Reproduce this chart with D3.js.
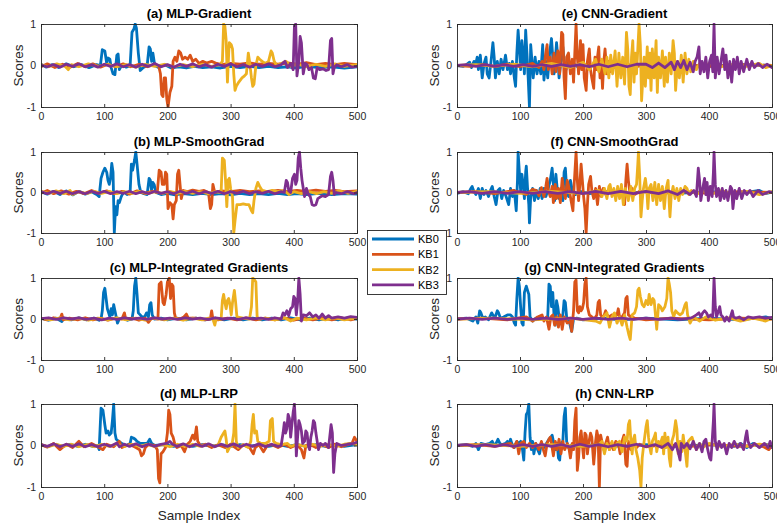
<!DOCTYPE html>
<html><head><meta charset="utf-8">
<script src="https://cdn.jsdelivr.net/npm/d3@7"></script>
<style>body{margin:0;background:#fff}svg{display:block}</style>
</head><body>
<svg id="c" width="777" height="527"></svg>
<script>
// ---------- data ----------
const seriesNames = ["KB0","KB1","KB2","KB3"];
const seriesColors = ["#0072BD","#D95319","#EDB120","#7E2F8E"];
const panelTitles = ["(a) MLP-Gradient","(b) MLP-SmoothGrad","(c) MLP-Integrated Gradients","(d) MLP-LRP",
                     "(e) CNN-Gradient","(f) CNN-SmoothGrad","(g) CNN-Integrated Gradients","(h) CNN-LRP"];
const xTicks = [0,100,200,300,400,500];
const yTicks = [-1,0,1];
const yLabel = "Scores";
const xLabel = "Sample Index";

// (a) MLP-Gradient
const aKB0 = [[0,0.03],[8,-0.04],[18,0.02],[28,-0.05],[40,0.04],[52,-0.03],[64,0.02],[76,-0.05],[88,0.02],[94,0],[97,0.38],[101,0.35],[104,0.05],[106,0.18],[109,0.15],[111,-0.05],[114,-0.2],[117,-0.22],[120,0.25],[122,0.28],[124,-0.1],[128,0.02],[135,-0.04],[141,0],[144,0.8],[147,0.88],[149,1.0],[151,0.9],[154,0.3],[157,-0.12],[162,-0.05],[168,0],[171,0.45],[173,0.4],[175,0.1],[177,0.3],[180,0],[186,-0.05],[196,0.02],[206,-0.06],[218,-0.03],[230,-0.06],[242,-0.02],[256,-0.05],[270,-0.03],[284,-0.06],[300,-0.02],[315,-0.05],[330,-0.02],[345,-0.05],[360,-0.02],[375,-0.05],[390,-0.03],[405,-0.06],[420,-0.02],[440,-0.05],[460,-0.03],[480,-0.06],[500,-0.03]];
const aKB1 = [[0,-0.03],[10,0.04],[22,-0.05],[34,0.03],[46,-0.04],[58,0.05],[70,-0.03],[82,0.04],[94,-0.04],[106,0.03],[118,-0.03],[130,0.04],[142,-0.03],[155,0.03],[168,-0.03],[180,0.02],[186,0],[189,-0.2],[191,-0.7],[193,-0.75],[195,-0.3],[197,-0.3],[199,-0.8],[201,-1.0],[204,-0.65],[207,-0.5],[209,0.1],[212,0.2],[215,0.1],[218,0.35],[221,0.3],[224,0.15],[228,0.2],[232,0.15],[236,0.25],[240,0.1],[245,0.15],[250,0.05],[256,0.1],[262,0.06],[270,0.1],[278,0.05],[285,0.02],[300,0.05],[315,0.03],[330,0.06],[345,0.03],[360,0.05],[375,0.03],[390,0.06],[405,0.03],[420,0.07],[435,0.02],[450,0.05],[465,0.02],[480,0.05],[500,0.02]];
const aKB2 = [[0,0.02],[12,-0.03],[25,0.04],[38,-0.02],[43,-0.1],[48,0.02],[60,-0.03],[75,0.04],[90,-0.02],[105,0.03],[120,-0.03],[135,0.02],[150,-0.04],[165,0.03],[180,-0.02],[195,0.03],[210,-0.03],[225,0.02],[240,-0.03],[255,0.03],[270,-0.02],[283,0.02],[287,0.1],[289,1.0],[291,0.95],[293,0.6],[295,-0.4],[297,0.3],[298,0.55],[301,0.5],[303,0.4],[305,-0.2],[307,-0.6],[309,-0.5],[313,-0.4],[318,-0.3],[322,-0.25],[325,-0.2],[328,0.3],[330,0.1],[333,-0.3],[335,-0.5],[337,-0.45],[340,0],[343,0.2],[346,0.15],[350,0.1],[355,0.05],[360,0.1],[364,0.35],[366,0.3],[369,0.1],[373,0],[380,0.05],[388,0.1],[395,-0.02],[405,0.04],[420,-0.03],[435,0.03],[450,-0.02],[465,0.04],[480,-0.02],[500,0.02]];
const aKB3 = [[0,0.01],[10,-0.03],[20,0.02],[30,-0.04],[40,0.03],[50,-0.02],[60,0.04],[70,-0.03],[80,0.02],[90,-0.04],[100,0.03],[110,-0.02],[120,0.04],[130,-0.03],[140,0.02],[150,-0.04],[160,0.03],[170,-0.02],[180,0.05],[190,-0.03],[200,0.02],[210,-0.04],[220,0.03],[230,-0.02],[240,0.04],[250,-0.03],[260,0.02],[270,-0.04],[280,0.03],[290,-0.02],[300,0.04],[310,-0.03],[320,0.02],[330,-0.04],[340,0.03],[350,-0.02],[360,0.04],[370,-0.03],[380,0.02],[386,0.1],[390,-0.05],[395,0.05],[399,-0.1],[401,0.95],[403,1.0],[405,-0.25],[408,0.1],[410,0.7],[412,0.55],[415,-0.2],[418,0.05],[421,0.02],[424,-0.1],[428,-0.05],[431,-0.3],[434,-0.32],[437,-0.05],[441,-0.1],[446,-0.08],[451,-0.12],[455,-0.1],[458,0.6],[460,0.65],[462,-0.2],[464,-0.05],[468,0.02],[475,-0.03],[485,0.02],[492,-0.04],[500,-0.02]];

// (b) MLP-SmoothGrad
const bKB0 = [[0,0.02],[10,-0.04],[20,0.03],[30,-0.05],[40,0.04],[50,-0.06],[60,0.03],[70,-0.04],[80,0.02],[88,-0.05],[92,-0.1],[95,0.35],[98,0.5],[101,0.6],[104,0.5],[106,0.3],[108,0.2],[110,0.35],[112,0.72],[114,0.5],[116,-1.0],[118,-0.35],[120,-0.55],[122,-0.2],[124,-0.25],[127,-0.1],[131,0.02],[136,-0.05],[141,0],[143,0.7],[145,0.55],[148,0.8],[150,1.0],[152,0.7],[155,0.2],[158,0],[163,-0.03],[168,-0.05],[171,0.35],[173,0.3],[175,0.05],[177,0.25],[179,0.2],[182,0],[190,-0.05],[200,-0.02],[212,-0.06],[225,-0.03],[240,-0.05],[255,-0.02],[270,-0.05],[285,-0.03],[300,-0.06],[315,-0.02],[330,-0.05],[345,-0.03],[360,-0.05],[375,-0.02],[390,-0.05],[405,-0.03],[420,-0.05],[440,-0.02],[460,-0.05],[480,-0.03],[500,-0.04]];
const bKB1 = [[0,-0.02],[10,0.05],[20,-0.03],[32,0.04],[44,-0.04],[56,0.03],[68,-0.03],[80,0.05],[92,-0.02],[104,0.04],[116,-0.03],[128,0.03],[140,-0.04],[152,0.04],[164,-0.02],[176,0.03],[184,0],[187,0.55],[190,0.5],[192,0.2],[195,0.2],[197,0.5],[199,0.45],[201,-0.4],[204,-0.25],[207,-0.3],[209,-0.65],[211,-0.3],[214,-0.2],[216,0.45],[218,0.55],[220,0.2],[222,-0.15],[225,0.05],[232,0.02],[240,0.06],[250,0.03],[258,0.05],[265,0],[268,-0.4],[270,-0.3],[272,0.2],[275,0],[285,0.04],[300,0.02],[315,0.05],[330,0.02],[345,0.04],[360,0.02],[375,0.05],[390,0.02],[405,0.05],[420,0.03],[435,0.06],[450,0.03],[465,0.05],[480,0.02],[500,0.04]];
const bKB2 = [[0,0.03],[12,-0.02],[24,0.04],[36,-0.03],[46,0.05],[50,-0.05],[60,0.02],[72,-0.03],[84,0.03],[96,-0.02],[108,0.03],[120,-0.03],[132,0.02],[144,-0.02],[156,0.03],[168,-0.03],[180,0.02],[192,-0.02],[204,0.03],[216,-0.02],[228,0.03],[240,-0.02],[252,0.02],[264,-0.03],[276,0.02],[285,0],[287,0.85],[290,0.8],[292,0.3],[294,-0.35],[296,0.3],[298,0.35],[300,0.1],[303,-0.1],[305,-1.0],[307,-0.7],[310,-0.3],[315,-0.3],[320,-0.28],[325,-0.3],[329,-0.3],[333,-0.45],[335,-0.5],[337,-0.2],[340,0.1],[343,0.25],[346,0.15],[350,0.05],[358,0.02],[366,0.05],[375,0.02],[385,0.05],[392,-0.05],[400,0.02],[412,-0.03],[424,0.02],[436,-0.03],[448,0.02],[460,-0.02],[472,0.04],[486,-0.02],[500,0.03]];
const bKB3 = [[0,0.02],[10,-0.03],[20,0.03],[30,-0.02],[40,0.03],[50,-0.03],[60,0.02],[70,-0.03],[80,0.03],[90,-0.02],[100,0.03],[110,-0.03],[120,0.02],[130,-0.02],[140,0.03],[150,-0.03],[160,0.02],[170,-0.03],[180,0.03],[190,-0.02],[200,0.02],[210,-0.03],[220,0.03],[230,-0.02],[240,0.03],[250,-0.03],[260,0.02],[270,-0.02],[280,0.03],[290,-0.03],[300,0.02],[310,-0.02],[320,0.03],[330,-0.03],[340,0.02],[350,-0.02],[360,0.03],[370,-0.03],[380,0.02],[385,0],[388,0.3],[390,0.25],[392,0.05],[395,0],[398,0.35],[401,0.45],[403,0.2],[405,0.3],[407,0.85],[409,1.0],[411,0.6],[413,0.3],[415,0.1],[417,-0.1],[420,0.1],[423,-0.05],[426,-0.1],[429,-0.3],[432,-0.32],[435,-0.3],[438,-0.15],[441,-0.12],[445,-0.08],[450,-0.1],[455,-0.05],[458,0.4],[460,0.5],[462,0.3],[464,-0.05],[467,0],[475,-0.03],[485,0.02],[495,-0.03],[500,0]];

// (c) MLP-Integrated Gradients
const cKB0 = [[0,0.02],[12,-0.03],[24,0.02],[33,-0.06],[36,0.02],[48,-0.02],[60,0.03],[72,-0.02],[84,0.02],[92,-0.03],[95,0],[97,0.2],[99,0.65],[101,0.75],[103,0.5],[105,0.25],[107,0.15],[109,0.05],[111,0.25],[113,0.1],[115,0.35],[117,0.2],[119,0.05],[121,-0.1],[124,0],[130,0.02],[137,-0.03],[144,0],[146,0.2],[148,0.8],[150,1.0],[152,0.6],[154,0.15],[157,0.1],[160,0.05],[164,0.05],[167,0.15],[170,0.05],[172,0.35],[174,0.4],[176,0.1],[179,0],[190,0.02],[200,-0.02],[215,0.02],[230,-0.02],[245,0.02],[260,-0.02],[275,0.02],[290,-0.02],[305,0.02],[320,-0.02],[335,0.02],[350,-0.02],[365,0.02],[380,-0.02],[395,0.03],[410,-0.02],[425,0.02],[440,-0.02],[455,0.02],[470,-0.02],[485,0.02],[500,0]];
const cKB1 = [[0,0.02],[10,-0.02],[20,0.03],[30,0],[33,0.12],[35,-0.02],[45,0.02],[58,-0.02],[70,0.03],[82,-0.02],[94,0.02],[106,-0.03],[118,0.02],[128,0],[132,0.15],[134,0],[145,0.02],[155,-0.03],[165,0.02],[170,-0.08],[175,0.02],[185,0],[187,0.85],[190,0.9],[193,0.4],[195,0.35],[198,0.6],[200,0.9],[203,1.0],[205,0.5],[207,0.85],[209,0.8],[211,0.15],[213,0.02],[220,0],[226,0.05],[230,0.12],[233,0.02],[245,0.02],[258,-0.02],[268,0],[270,0.2],[272,0],[280,-0.02],[295,0.02],[310,-0.02],[325,0.03],[340,-0.02],[355,0.02],[370,-0.02],[385,0.03],[400,-0.03],[415,0.02],[430,-0.02],[445,0.03],[460,-0.02],[475,0.03],[490,-0.02],[500,0.02]];
const cKB2 = [[0,0.02],[15,-0.02],[30,0.03],[45,-0.02],[60,0.02],[75,-0.03],[90,0.02],[105,-0.02],[120,0.03],[135,-0.02],[150,0.02],[165,-0.03],[180,0.02],[195,-0.02],[210,0.02],[225,-0.03],[240,0.02],[255,-0.02],[265,0.02],[272,0],[275,-0.15],[277,0],[285,0],[287,0.45],[289,0.6],[291,0.4],[293,0.25],[295,0.45],[297,0.5],[299,0.35],[301,0.1],[303,0.4],[306,0.7],[308,0.4],[310,0.05],[320,0.02],[330,0],[333,0.3],[335,1.0],[338,0.95],[340,0.9],[342,0.05],[345,0],[355,0.02],[370,-0.02],[385,0.03],[395,-0.05],[405,0.02],[420,-0.02],[435,0.03],[450,-0.02],[465,0.03],[480,-0.02],[500,0.02]];
const cKB3 = [[0,0.01],[12,0.03],[24,-0.01],[36,0.03],[48,0],[60,0.03],[72,-0.01],[84,0.02],[96,-0.02],[108,0.02],[120,-0.01],[132,0.03],[144,0],[156,0.02],[168,-0.01],[180,0.03],[192,0],[204,0.02],[216,-0.01],[228,0.03],[240,0],[252,0.02],[264,-0.01],[276,0.03],[288,0],[300,0.02],[312,-0.01],[324,0.03],[336,0],[348,0.02],[360,-0.01],[370,0.03],[380,0],[383,0.15],[386,0.1],[389,0.2],[392,0.08],[395,0.25],[398,0.3],[400,0.55],[402,0.5],[404,0.1],[406,0.4],[408,1.0],[410,0.6],[412,-0.05],[415,0.1],[420,0.08],[425,0.15],[430,0.05],[435,0.1],[440,0.02],[445,0.12],[450,0.02],[455,0.08],[460,0.02],[470,0.05],[480,0.02],[490,0.06],[500,0.04]];

// (d) MLP-LRP
const dKB0 = [[0,0.02],[10,-0.03],[22,0.03],[34,-0.02],[46,0.03],[58,-0.02],[70,0.03],[82,-0.02],[90,0],[92,-0.1],[95,0.9],[98,0.85],[101,0.5],[103,0.3],[106,0.35],[108,0.25],[111,0.3],[113,0.6],[115,1.0],[117,0.3],[119,0.15],[123,0.1],[128,0.05],[135,0],[141,0.05],[143,0.2],[146,0.18],[149,0.15],[152,0.1],[157,0.05],[162,0.05],[168,0.05],[172,0.15],[175,0.05],[180,0],[195,0.02],[210,-0.02],[225,0.02],[240,-0.02],[255,0.02],[270,-0.02],[285,0.02],[300,-0.02],[315,0.02],[330,-0.02],[345,0.02],[360,-0.02],[375,0.02],[390,-0.02],[405,0.02],[420,-0.02],[435,0.02],[450,-0.02],[465,0.02],[480,-0.02],[500,0.02]];
const dKB1 = [[0,0.02],[10,-0.04],[20,0.05],[30,-0.1],[40,0.03],[50,-0.05],[60,0.1],[68,-0.03],[80,0.05],[92,-0.05],[98,-0.1],[104,0.03],[115,-0.03],[124,0.1],[128,-0.05],[140,0.03],[150,-0.05],[156,-0.1],[159,-0.25],[162,-0.2],[165,-0.05],[170,0.02],[180,0],[184,-0.1],[186,-0.8],[188,-0.9],[190,-0.2],[193,-0.15],[197,-0.05],[200,0.3],[202,0.85],[204,0.75],[206,0.3],[209,0.2],[212,0.02],[215,-0.05],[222,0],[227,-0.15],[231,0.02],[236,0.1],[240,0.25],[243,0.15],[246,0.45],[248,0.1],[252,0],[260,0.03],[270,-0.05],[280,0.02],[292,-0.05],[300,0.03],[312,-0.1],[320,0.02],[330,-0.05],[336,-0.2],[339,-0.05],[345,0.02],[352,-0.15],[358,0],[365,0.02],[375,-0.05],[385,0.03],[395,-0.05],[405,0.02],[412,-0.1],[416,-0.3],[419,0],[425,0.03],[435,-0.05],[445,0.02],[455,-0.05],[465,0.03],[475,-0.03],[485,0.02],[492,0.05],[496,0.2],[500,0.1]];
const dKB2 = [[0,0.02],[12,-0.03],[24,0.03],[36,-0.02],[48,0.03],[60,-0.03],[72,0.02],[84,-0.03],[96,0.03],[108,-0.02],[120,0.03],[132,-0.02],[144,0.03],[156,-0.02],[168,0.03],[180,-0.03],[192,0.02],[204,-0.03],[216,0.03],[228,-0.02],[240,0.03],[252,-0.02],[264,0.03],[275,-0.02],[280,0],[285,0.2],[289,0.3],[291,0.35],[293,0.15],[295,-0.15],[298,-0.05],[302,0],[305,0.3],[307,1.0],[309,0.1],[312,-0.05],[320,0.02],[328,-0.05],[332,0.1],[334,0.5],[336,0.75],[338,0.3],[341,0.35],[343,0.1],[348,0.05],[355,0.05],[361,0.1],[363,0.6],[366,0.65],[368,0.1],[372,0.05],[380,0.02],[390,0.05],[395,-0.02],[405,0.03],[418,-0.02],[430,0.03],[442,-0.02],[455,0.03],[468,-0.02],[480,0.03],[490,0.05],[500,0.02]];
const dKB3 = [[0,0.02],[10,-0.02],[20,0.04],[30,-0.03],[40,0.03],[50,-0.02],[60,0.04],[70,-0.03],[80,0.02],[90,-0.03],[100,0.03],[110,-0.02],[120,0.06],[124,-0.03],[132,0.03],[140,-0.02],[150,0.04],[160,-0.03],[170,0.03],[180,-0.02],[190,0.03],[200,0.06],[204,0.1],[208,0.03],[215,-0.02],[225,0.04],[235,-0.03],[245,0.03],[255,-0.02],[265,0.04],[275,-0.03],[285,0.03],[295,-0.02],[305,0.04],[315,-0.03],[325,0.03],[335,-0.02],[345,0.04],[355,-0.03],[365,0.03],[375,-0.02],[380,0],[383,0.3],[385,0.55],[387,0.3],[389,0.4],[391,0.75],[393,0.65],[395,0.2],[397,0.5],[399,0.8],[401,1.0],[403,0.4],[404,-0.25],[406,0.2],[408,0.6],[410,0.5],[412,0.35],[414,0.05],[417,0.1],[419,0.35],[421,0.3],[423,0],[425,-0.1],[427,0.2],[429,0.35],[431,0.6],[433,0.55],[435,0.3],[437,0.1],[439,-0.1],[442,0.05],[446,0],[450,0.05],[455,-0.05],[459,0.5],[461,0.3],[463,-0.65],[465,-0.2],[468,0.05],[475,0],[485,0.03],[495,0.05],[500,0.08]];

// (e) CNN-Gradient
const eKB0 = [[0,0],[10,-0.02],[15,0.02],[20,0.08],[23,-0.05],[27,0.1],[30,0.05],[32,0.2],[34,-0.1],[37,0.25],[40,-0.3],[43,0.05],[46,0.2],[48,-0.2],[51,-0.3],[54,0.1],[57,0.55],[59,0.2],[61,-0.3],[64,0.1],[67,-0.2],[70,0.15],[73,-0.1],[77,0.25],[80,-0.1],[83,0.05],[85,-0.2],[88,0.1],[91,-0.3],[93,-0.5],[95,0.3],[97,0.85],[99,0.4],[101,-0.1],[103,0.6],[105,0.25],[107,-0.2],[109,0.85],[111,0.3],[113,-0.3],[115,-1.0],[117,0.5],[119,0.1],[121,-0.3],[124,0.2],[127,-0.2],[130,0.1],[133,-0.2],[136,0.5],[138,-0.35],[141,0.1],[144,-0.3],[147,0.3],[150,0.65],[152,0.2],[154,-0.2],[156,0.1],[158,0.55],[160,0.2],[162,-0.3],[165,0.1],[168,0.45],[170,0.1],[173,-0.1],[176,0.1],[180,-0.05],[185,0.05],[190,-0.02],[200,0.02],[220,-0.02],[240,0.02],[260,-0.02],[280,0.02],[300,0],[350,0.02],[400,-0.02],[450,0.02],[500,0]];
const eKB1 = [[0,0],[20,-0.02],[40,0.02],[60,-0.02],[80,0.03],[100,-0.03],[120,0.05],[130,-0.05],[135,0.1],[138,-0.1],[140,0.2],[143,0.5],[145,-0.1],[148,0.2],[151,-0.2],[154,0.3],[157,-0.15],[160,0.35],[163,-0.2],[166,0.8],[168,0.75],[170,-0.3],[172,-0.8],[174,0.2],[177,0.3],[180,-0.2],[183,0.15],[185,-0.4],[187,0.3],[189,1.0],[191,0.2],[193,-0.2],[196,0.6],[198,-0.1],[200,0.5],[202,-0.3],[205,-0.6],[207,0.1],[210,0.4],[212,-0.1],[214,-0.3],[217,-0.55],[219,0.2],[221,-0.1],[223,0.2],[225,0.45],[227,-0.3],[229,0.1],[231,-0.55],[233,0.1],[235,0.4],[238,-0.2],[240,0.1],[243,-0.15],[246,0.1],[250,-0.05],[255,0.05],[262,-0.05],[270,0.03],[285,-0.03],[300,0.02],[330,-0.02],[360,0.02],[400,-0.02],[450,0.02],[500,0]];
const eKB2 = [[0,0],[30,0.02],[60,-0.02],[90,0.03],[120,-0.03],[150,0.05],[180,-0.05],[200,0.08],[210,-0.1],[220,0.15],[225,-0.15],[230,0.15],[235,-0.2],[238,0.2],[241,-0.3],[244,0.25],[247,-0.2],[251,0.35],[254,-0.5],[257,0.3],[260,-0.3],[263,0.2],[266,-0.45],[269,0.8],[271,0.4],[273,-0.5],[275,-0.7],[277,0.2],[279,0.6],[281,-0.4],[283,0.3],[285,-0.2],[287,0.4],[289,1.0],[291,0.5],[293,-0.85],[295,-0.3],[297,0.2],[299,-0.5],[302,0.45],[304,-0.3],[306,0.3],[308,-0.6],[310,0.4],[313,-0.3],[316,0.6],[318,-0.65],[320,0.2],[323,-0.3],[326,0.35],[329,-0.5],[331,0.2],[334,-0.4],[337,0.3],[340,-0.2],[343,0.6],[345,0.3],[347,-0.6],[350,0.1],[353,-0.3],[356,0.25],[359,-0.4],[362,0.3],[365,-0.2],[368,0.15],[371,-0.15],[375,0.1],[380,-0.1],[385,0.05],[390,-0.05],[400,0.05],[420,-0.03],[440,0.03],[460,-0.02],[480,0.05],[490,-0.05],[500,0]];
const eKB3 = [[0,0],[15,0.02],[30,-0.02],[45,0.02],[60,-0.02],[75,0.02],[90,-0.02],[105,0.02],[120,-0.02],[135,0.02],[150,-0.02],[165,0.02],[180,-0.02],[195,0.02],[210,-0.03],[225,0.03],[240,-0.03],[255,0.03],[270,-0.03],[285,0.03],[300,0.03],[310,-0.05],[320,0.06],[330,-0.05],[340,0.08],[345,-0.1],[350,0.1],[355,-0.05],[360,0.12],[365,-0.1],[370,0.08],[375,-0.15],[378,0.1],[381,0.2],[384,0.45],[386,-0.2],[389,0.1],[392,-0.15],[395,0.2],[398,-0.3],[401,0.1],[404,0.25],[406,-0.15],[408,1.0],[410,-0.3],[413,0.2],[416,-0.2],[419,0.1],[422,0.4],[425,-0.1],[427,0.25],[430,-0.3],[433,0.1],[436,-0.4],[439,0.15],[442,-0.1],[445,0.2],[448,-0.2],[451,0.1],[455,-0.15],[460,0.15],[464,-0.1],[468,0.1],[472,-0.05],[478,0.05],[485,-0.05],[492,0.03],[500,-0.05]];

// (f) CNN-SmoothGrad
const fKB0 = [[0,-0.02],[10,0.02],[18,-0.03],[22,0.1],[24,0.15],[27,0.02],[30,-0.05],[34,0.1],[37,-0.15],[40,0.1],[43,-0.05],[46,0.05],[50,-0.1],[53,0.05],[56,0.15],[59,-0.1],[62,-0.3],[65,0.05],[68,0.1],[71,-0.15],[74,0.05],[78,-0.1],[82,-0.3],[85,0.1],[88,-0.1],[91,0.05],[94,-0.45],[96,0.3],[97,1.0],[99,0.5],[101,0.05],[103,0.45],[105,0.2],[107,-0.15],[109,0.5],[110,0.65],[112,0.1],[114,-0.3],[115,-0.75],[117,-0.1],[120,0.1],[123,-0.2],[126,0.05],[129,-0.15],[132,0.1],[135,-0.15],[138,0.1],[141,-0.1],[144,0.05],[148,0.3],[151,0.6],[153,0.2],[155,-0.2],[157,0.45],[159,0.1],[162,-0.15],[165,0.1],[168,-0.2],[170,0.5],[172,0.6],[174,0.1],[177,-0.1],[180,0.3],[183,0.05],[188,-0.05],[195,0.03],[210,-0.03],[240,0.02],[270,-0.02],[300,0.02],[350,-0.02],[400,0.02],[450,-0.02],[480,0.05],[490,-0.03],[500,0.01]];
const fKB1 = [[0,0],[30,0.02],[60,-0.03],[90,0.05],[110,-0.05],[120,0.08],[126,0.05],[130,-0.08],[134,0.12],[138,-0.1],[141,0.15],[143,0.35],[145,0.05],[148,-0.1],[151,0.15],[153,-0.25],[156,0.2],[158,-0.15],[161,0.1],[164,-0.25],[167,0.35],[169,0.1],[172,-0.15],[175,0.3],[178,0.1],[181,-0.2],[184,-0.45],[186,0.2],[189,1.0],[191,0.3],[193,-0.2],[195,0.2],[197,0.7],[199,0.3],[201,-0.1],[203,-0.4],[205,-1.0],[207,-0.3],[209,0.2],[212,0.4],[214,0.05],[217,-0.15],[220,0.1],[223,-0.3],[226,0.15],[229,-0.1],[232,0.1],[236,-0.05],[240,0.05],[250,-0.05],[258,0.05],[263,-0.1],[266,-0.3],[268,0.3],[270,0.7],[272,0.3],[274,0.05],[278,0.1],[282,-0.05],[290,0.03],[320,-0.02],[360,0.02],[400,-0.02],[450,0.02],[500,0]];
const fKB2 = [[0,0],[50,0.02],[100,-0.02],[150,0.03],[200,-0.03],[225,0.05],[230,-0.1],[234,0.1],[238,-0.15],[241,0.15],[243,0.2],[246,-0.1],[249,0.1],[252,-0.2],[255,0.15],[258,-0.15],[261,0.2],[264,-0.3],[267,0.1],[272,-0.2],[276,0.15],[279,-0.2],[282,0.1],[285,0.2],[287,0.7],[288,1.0],[290,0.4],[292,-0.6],[294,-0.2],[296,0.1],[299,0.35],[301,0.1],[303,-0.4],[305,0.1],[308,0.2],[311,-0.2],[314,0.25],[317,-0.3],[320,0.2],[323,-0.2],[326,0.15],[329,-0.4],[332,0.1],[335,0.3],[338,-0.6],[340,-0.1],[343,0.15],[346,-0.15],[349,0.1],[352,-0.2],[355,0.1],[358,-0.05],[362,0.15],[365,0.1],[368,-0.05],[372,0.05],[380,-0.05],[390,0.05],[400,-0.05],[420,0.05],[440,-0.05],[460,0.03],[480,-0.05],[500,0.02]];
const fKB3 = [[0,0],[20,0.02],[40,-0.02],[60,0.02],[80,-0.02],[100,0.02],[120,-0.02],[140,0.02],[160,-0.02],[180,0.02],[200,-0.03],[220,0.03],[240,-0.03],[260,0.03],[280,-0.03],[300,0.03],[320,-0.03],[335,0.04],[350,-0.05],[360,0.05],[370,-0.05],[376,0.05],[380,-0.1],[383,0.6],[385,0.3],[387,-0.2],[390,0.1],[393,0.35],[395,-0.05],[397,0.25],[399,-0.2],[402,0.15],[405,-0.1],[407,0.5],[408,1.0],[410,0.2],[412,-0.1],[415,0.1],[418,-0.2],[421,0.1],[424,-0.15],[427,0.05],[430,-0.2],[434,0.15],[436,0.1],[438,-0.4],[441,0.05],[444,-0.15],[448,0.1],[452,-0.15],[456,0.05],[460,-0.05],[465,0.05],[470,-0.1],[478,0.05],[485,-0.05],[495,0.02],[500,0]];

// (g) CNN-Integrated Gradients
const gKB0 = [[0,0],[15,0.02],[25,-0.05],[30,0.05],[33,-0.1],[36,0.2],[38,0.15],[41,0.02],[45,0.05],[50,-0.02],[55,0.15],[57,0.1],[60,0.02],[64,0.2],[66,0.15],[69,0.02],[74,0.05],[80,0.1],[85,0.1],[88,0.05],[91,-0.1],[93,-0.15],[95,0.5],[97,1.0],[99,0.8],[101,0.3],[103,-0.1],[105,-0.15],[107,0.65],[110,0.8],[112,0.7],[114,0.6],[116,0.05],[120,-0.05],[125,0.02],[130,0.05],[140,0],[144,0.05],[146,0.85],[148,0.8],[150,0.3],[152,0.65],[154,0.1],[156,-0.15],[158,0.45],[160,0.3],[162,0.05],[165,-0.1],[168,0.1],[170,0.45],[172,0.4],[174,0.05],[178,-0.05],[182,-0.3],[185,0],[190,0.02],[200,-0.02],[230,0.02],[260,-0.02],[300,0.02],[350,-0.02],[400,0.02],[450,-0.02],[490,0.05],[500,0.01]];
const gKB1 = [[0,0],[40,0.02],[80,-0.02],[110,0.05],[120,-0.05],[128,0.05],[135,0.1],[138,-0.05],[142,0.05],[146,-0.25],[149,0.05],[152,0.1],[155,-0.15],[158,0.05],[161,-0.2],[164,0.1],[167,-0.25],[170,0.05],[175,-0.1],[180,-0.05],[182,-0.3],[185,0.2],[187,0.9],[189,0.95],[191,0.2],[193,0.15],[195,0.3],[197,0.2],[199,0.25],[201,0.4],[203,0.85],[205,1.0],[207,0.3],[210,0.1],[214,0.05],[218,0],[222,0.1],[224,0.4],[226,0.45],[228,0.1],[232,0.02],[236,0.2],[238,0.1],[242,0.05],[246,0.1],[250,0.05],[254,0.1],[256,0.25],[258,0.05],[262,0.05],[266,0.15],[268,0.5],[270,0.55],[272,0.1],[276,0.05],[282,0.02],[300,-0.02],[340,0.02],[400,-0.02],[450,0.02],[500,0]];
const gKB2 = [[0,0],[60,0.02],[120,-0.02],[180,0.02],[220,-0.05],[227,-0.1],[232,0.05],[238,0.15],[242,-0.2],[246,0.05],[250,0.15],[254,-0.1],[258,0.05],[262,-0.15],[266,0.1],[270,-0.2],[273,-0.4],[275,-0.5],[278,0.1],[282,0.15],[285,0.3],[287,0.7],[289,0.75],[291,0.55],[294,0.35],[297,0.3],[300,0.45],[303,0.35],[305,0.6],[308,0.35],[311,0.5],[313,0.45],[315,0.1],[317,-0.25],[320,0.35],[323,0.3],[326,0.2],[330,0.3],[333,0.5],[335,1.0],[337,0.85],[339,0.65],[341,0.2],[344,0.05],[347,0.2],[350,0.15],[354,0.1],[358,0.15],[362,0.35],[364,0.4],[366,0.1],[370,-0.1],[375,0.05],[385,-0.05],[395,0.05],[410,-0.03],[430,0.03],[450,-0.05],[470,0.02],[490,-0.05],[500,0.02]];
const gKB3 = [[0,0],[20,0.02],[40,-0.01],[60,0.02],[80,-0.01],[100,0.02],[120,-0.01],[140,0.02],[160,-0.01],[180,0.02],[200,-0.01],[220,0.02],[240,-0.01],[260,0.02],[280,-0.01],[300,0.02],[320,-0.01],[340,0.02],[355,-0.01],[370,0.02],[375,0.05],[380,0.1],[384,0.15],[387,0.05],[390,0.15],[393,0.2],[396,0.15],[399,0.05],[403,0.1],[406,0.05],[408,1.0],[410,0.3],[412,0.05],[415,0.2],[417,0.3],[419,0.1],[422,0.05],[425,-0.05],[428,0.05],[432,-0.05],[435,0.1],[437,0.2],[439,0.05],[443,0.02],[448,0.05],[455,-0.02],[462,0.05],[470,0.03],[480,0.05],[490,0.02],[500,0.04]];

// (h) CNN-LRP
const hKB0 = [[0,0],[15,0.02],[25,-0.02],[30,0.05],[34,-0.1],[38,0.05],[45,0.02],[52,0.05],[56,0.1],[58,0.02],[62,0.05],[65,0.15],[68,0.05],[72,0.02],[77,0.05],[80,0.1],[83,0.05],[85,0.15],[87,0.05],[91,-0.05],[95,0.1],[98,0.05],[101,0.1],[104,-0.1],[106,-0.35],[108,0.3],[110,0.75],[112,0.8],[114,1.0],[116,0.2],[118,-0.1],[120,0.1],[122,-0.2],[125,0.05],[128,-0.1],[131,-0.2],[134,0.05],[138,-0.05],[142,0.05],[146,0.15],[149,0.2],[151,0.25],[153,0.1],[156,-0.1],[159,0.05],[161,-0.3],[163,-0.35],[165,0.05],[168,0.1],[170,0.7],[172,0.9],[174,0.1],[177,-0.05],[182,0.02],[190,-0.02],[220,0.02],[260,-0.02],[300,0.02],[350,-0.02],[400,0.02],[440,-0.02],[450,0.05],[460,-0.05],[470,0.05],[480,-0.03],[490,0.03],[500,0]];
const hKB1 = [[0,0],[30,0.02],[60,-0.02],[85,0.05],[90,-0.05],[95,0.1],[98,-0.2],[101,0.05],[106,0.1],[110,-0.05],[115,0.05],[120,-0.05],[125,0.05],[130,-0.1],[134,0.1],[137,-0.1],[140,-0.25],[143,0.05],[146,0.15],[148,0.2],[150,0.05],[153,-0.25],[156,0.1],[159,-0.1],[162,0.15],[165,-0.2],[168,0.1],[171,-0.1],[175,0.05],[178,-0.1],[180,-0.3],[183,0.05],[185,-0.1],[187,0.6],[189,0.9],[191,-0.6],[193,-0.3],[195,0.2],[197,0.35],[199,0],[201,-0.3],[203,0.3],[205,0.25],[207,-0.2],[209,0.05],[212,0.3],[214,0.2],[217,-0.45],[220,0.1],[222,0.35],[224,0.2],[226,-1.0],[228,0.25],[230,0.1],[233,-0.1],[236,0.05],[239,0.2],[242,-0.1],[245,0.05],[248,-0.1],[252,0.1],[256,0.05],[259,-0.2],[262,0.1],[265,0.25],[268,-0.45],[270,-0.5],[272,0.1],[276,-0.1],[280,0.05],[285,-0.05],[290,0.03],[300,-0.03],[330,0.02],[370,-0.02],[410,0.02],[450,-0.02],[480,0.02],[495,-0.1],[500,0]];
const hKB2 = [[0,0],[50,0.02],[100,-0.02],[150,0.02],[200,-0.02],[225,0.02],[230,0.1],[234,-0.2],[238,0.05],[242,-0.1],[246,0.1],[250,-0.1],[254,0.05],[258,0.1],[262,-0.15],[266,0.2],[270,0.1],[272,0.5],[274,0.6],[276,0.1],[278,-0.2],[280,0.15],[282,0.25],[284,-0.1],[287,-0.3],[290,-0.6],[292,-1.0],[294,-0.3],[297,0.1],[300,0.45],[302,0.6],[304,0.2],[306,-0.05],[308,-0.2],[310,0.1],[313,0.2],[315,0.3],[317,-0.15],[320,0.1],[323,0.05],[326,0.2],[328,-0.2],[330,0.3],[332,-0.05],[335,0.2],[337,-0.3],[339,-0.5],[341,0.1],[344,0.25],[347,0.6],[349,0.4],[351,-0.2],[354,0.1],[357,-0.15],[359,0.25],[362,-0.1],[365,-0.5],[367,0.1],[370,0.15],[373,0.2],[376,0.05],[380,-0.1],[385,0.05],[390,-0.05],[400,0.05],[420,-0.03],[440,0.03],[460,-0.02],[480,0.03],[500,0]];
const hKB3 = [[0,0],[15,0.02],[30,-0.02],[45,0.02],[60,-0.02],[75,0.02],[90,-0.02],[105,0.02],[120,-0.02],[135,0.02],[150,-0.02],[165,0.02],[180,-0.03],[195,0.03],[210,-0.02],[225,0.02],[240,-0.03],[255,0.02],[270,-0.02],[285,0.03],[300,-0.03],[315,0.02],[325,-0.05],[335,0.05],[342,-0.1],[347,0.05],[351,-0.15],[354,-0.35],[356,0.05],[360,-0.05],[365,0.05],[370,-0.08],[375,0.1],[380,-0.1],[385,0.05],[389,-0.15],[392,0.1],[395,0.15],[398,-0.1],[401,-0.3],[403,-0.35],[405,0.1],[407,0.6],[408,1.0],[410,0.1],[413,-0.1],[416,0.1],[420,-0.05],[424,0.05],[428,-0.2],[432,0.05],[436,-0.05],[440,0.1],[445,-0.05],[450,0.05],[455,-0.1],[458,0.2],[460,0.35],[462,0.1],[466,-0.05],[472,0.05],[480,-0.05],[488,0.05],[494,-0.05],[497,0.1],[500,-0.05]];

// ---------- layout ----------
const panelSeries = [
  [aKB0,aKB1,aKB2,aKB3],[bKB0,bKB1,bKB2,bKB3],[cKB0,cKB1,cKB2,cKB3],[dKB0,dKB1,dKB2,dKB3],
  [eKB0,eKB1,eKB2,eKB3],[fKB0,fKB1,fKB2,fKB3],[gKB0,gKB1,gKB2,gKB3],[hKB0,hKB1,hKB2,hKB3]
];
const colX = [[41,357],[457,772]];
const rowY = [[24,107],[152,233],[278,360],[404,487]];
const FONT = "'Liberation Sans', Arial, Helvetica, sans-serif";
const AX = "#262626";

const svg = d3.select("#c");
const defs = svg.append("defs");

panelTitles.forEach((title, i) => {
  const col = Math.floor(i / 4), row = i % 4;
  const [x0, x1] = colX[col];
  const [y0, y1] = rowY[row];
  const x = d3.scaleLinear().domain([0, 500]).range([x0, x1]);
  const y = d3.scaleLinear().domain([-1, 1]).range([y1, y0]);
  const g = svg.append("g");

  defs.append("clipPath").attr("id", "clip" + i)
    .append("rect").attr("x", x0).attr("y", y0 - 1).attr("width", x1 - x0).attr("height", y1 - y0 + 2);

  const line = d3.line().x(d => x(d[0])).y(d => y(d[1]));
  const lg = g.append("g").attr("clip-path", "url(#clip" + i + ")");
  panelSeries[i].forEach((s, k) => {
    lg.append("path").attr("d", line(s)).attr("fill", "none")
      .attr("stroke", seriesColors[k]).attr("stroke-width", 2.8)
      .attr("stroke-linejoin", "round").attr("stroke-linecap", "round");
  });

  const xb = g.append("g").attr("transform", `translate(0,${y1})`)
    .call(d3.axisBottom(x).tickValues(xTicks).tickSize(-3).tickPadding(6).tickFormat(d3.format("d")));
  const xt = g.append("g").attr("transform", `translate(0,${y0})`)
    .call(d3.axisTop(x).tickValues(xTicks).tickSize(-3).tickFormat(""));
  const yl = g.append("g").attr("transform", `translate(${x0},0)`)
    .call(d3.axisLeft(y).tickValues(yTicks).tickSize(-3).tickPadding(5).tickFormat(d => d === -1 ? "-1" : String(d)));
  const yr = g.append("g").attr("transform", `translate(${x1},0)`)
    .call(d3.axisRight(y).tickValues(yTicks).tickSize(-3).tickFormat(""));
  [xb, xt, yl, yr].forEach(a => {
    a.select(".domain").attr("stroke", AX).attr("stroke-width", 0.9);
    a.selectAll(".tick line").attr("stroke", AX).attr("stroke-width", 0.9);
    a.selectAll(".tick text").attr("fill", AX).attr("font-family", FONT).attr("font-size", 10.5);
  });
  xb.selectAll(".tick text").attr("dy", "0.71em");

  g.append("text").attr("x", (x0 + x1) / 2).attr("y", y0 - 6)
    .attr("text-anchor", "middle").attr("font-family", FONT).attr("font-weight", "bold")
    .attr("font-size", 13).attr("fill", "#000").text(title);

  g.append("text").attr("transform", `translate(${x0 - 23},${(y0 + y1) / 2}) rotate(-90)`)
    .attr("text-anchor", "middle").attr("dominant-baseline", "central")
    .attr("font-family", FONT).attr("font-size", 13.5).attr("fill", AX).text(yLabel);

  if (row === 3) {
    g.append("text").attr("x", (x0 + x1) / 2).attr("y", 520)
      .attr("text-anchor", "middle").attr("font-family", FONT).attr("font-size", 13.5)
      .attr("fill", AX).text(xLabel);
  }
});

// legend
const leg = svg.append("g");
leg.append("rect").attr("x", 367.5).attr("y", 230.5).attr("width", 79).attr("height", 64)
  .attr("fill", "#fff").attr("stroke", AX).attr("stroke-width", 0.9);
seriesNames.forEach((n, k) => {
  const yy = 239 + k * 15.3;
  leg.append("line").attr("x1", 372).attr("x2", 414).attr("y1", yy).attr("y2", yy)
    .attr("stroke", seriesColors[k]).attr("stroke-width", 2.8);
  leg.append("text").attr("x", 418).attr("y", yy).attr("dominant-baseline", "central")
    .attr("font-family", FONT).attr("font-size", 11).attr("fill", "#000").text(n);
});
</script>
</body></html>
